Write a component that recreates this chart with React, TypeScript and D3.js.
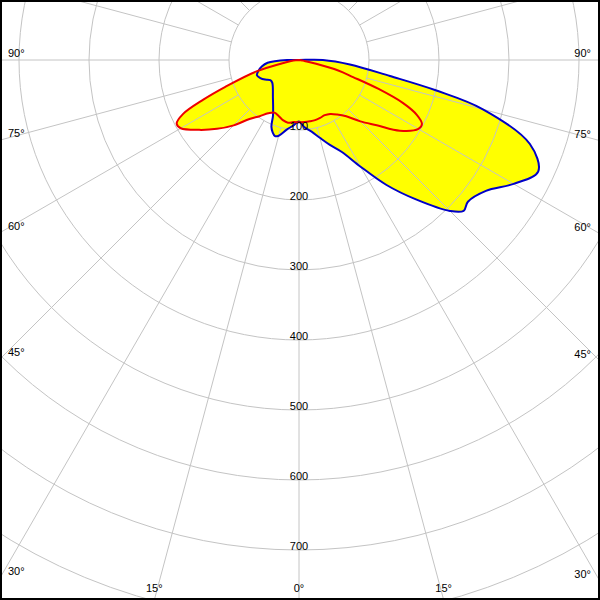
import * as d3 from "d3";

// polar angles (deg from nadir, + to the right) and intensities
const blueGamma = [
  -90, -85, -80, -75, -70, -65, -60, -55, -50, -45, -40, -35, -30, -25, -22.5, -20, -17.5,
  -15, -10, -5, 0, 5, 10, 15, 20, 25, 30, 35, 40, 45, 47.5, 50, 55, 60, 65, 70, 75, 77.5,
  80, 85, 90,
];
const blueValues = [
  17, 45, 54, 60, 64, 61, 56, 50, 50, 53, 58, 65, 74, 88, 103, 110, 114,
  112, 101, 94, 88, 97, 104, 115, 129, 145, 176, 218, 260, 305, 319, 315, 326, 354, 377, 351, 272, 200,
  132, 73, 34,
];

const redGamma = [
  -90, -85, -80, -75, -70, -67.5, -65, -62.5, -60, -55, -50, -45, -40, -35, -30, -25, -20,
  -15, -10, -5, 0, 5, 10, 15, 20, 25, 30, 35, 40, 45, 50, 55, 60, 62.5, 65, 67.5, 70, 72.5,
  75, 77.5, 80, 85, 90,
];
const redValues = [
  0, 8, 20, 63, 112, 148, 183, 197, 195, 174, 153, 132, 110, 98, 88, 83, 85,
  89, 91, 89, 89, 89, 89, 89, 88, 87, 89, 95, 105, 124, 145, 176, 197, 198, 186, 161, 121, 81,
  58, 25, 8, 3, 0,
];

const ringValues = [100, 200, 300, 400, 500, 600, 700, 800, 900];
const ringLabels = [100, 200, 300, 400, 500, 600, 700];
const spokeAngles = d3.range(0, 360, 15);
const angleLabels = [-90, -75, -60, -45, -30, -15, 0, 15, 30, 45, 60, 75, 90];

const W = 600;
const H = 600;
const cx = 299;
const cy = 60;

const r = d3.scaleLinear().domain([0, 100]).range([0, 70]);

type Pt = [number, number];

const toRad = (g: number) => ((180 - g) * Math.PI) / 180;

const radial = d3
  .lineRadial<Pt>()
  .angle((d) => toRad(d[0]))
  .radius((d) => r(d[1]))
  .curve(d3.curveCatmullRomClosed.alpha(0.5));

function curvePath(gamma: number[], values: number[]) {
  const pts: Pt[] = gamma.map((g, i) => [g, values[i]]);
  pts.push([180, 0]);
  return radial(pts) || "";
}

// where a ray from the centre leaves the frame
function exitPoint(g: number) {
  const s = Math.sin((g * Math.PI) / 180);
  const c = Math.cos((g * Math.PI) / 180);
  const tSide = Math.abs(s) > 1e-6 ? (s < 0 ? cx / -s : (W - cx) / s) : Infinity;
  const tBottom = c > 1e-6 ? (H - cy) / c : Infinity;
  if (tSide <= tBottom) {
    return { side: s < 0 ? "left" : "right", x: cx + s * tSide, y: cy + c * tSide };
  }
  return { side: "bottom", x: cx + s * tBottom, y: cy + c * tBottom };
}

export default function App() {
  const bluePath = curvePath(blueGamma, blueValues);
  const redPath = curvePath(redGamma, redValues);
  const font = "'Liberation Sans', Arial, sans-serif";

  return (
    <svg
      width={W}
      height={H}
      style={{ position: "absolute", left: 0, top: 0, background: "#fff" }}
    >
      <g transform={`translate(${cx},${cy})`}>
        <path d={bluePath} fill="#ffff00" />
        <path d={redPath} fill="#ffff00" />
        {ringValues.map((v) => (
          <circle key={v} r={r(v)} fill="none" stroke="#c4c4c4" strokeWidth={1} />
        ))}
        {spokeAngles.map((a) => {
          const s = Math.sin((a * Math.PI) / 180);
          const c = Math.cos((a * Math.PI) / 180);
          return (
            <line
              key={a}
              x1={s * r(100)}
              y1={c * r(100)}
              x2={s * r(1000)}
              y2={c * r(1000)}
              stroke="#c4c4c4"
              strokeWidth={1}
            />
          );
        })}
        <path d={bluePath} fill="none" stroke="#0000c8" strokeWidth={2} strokeLinejoin="round" />
        <path d={redPath} fill="none" stroke="#ee0000" strokeWidth={2} strokeLinejoin="round" />
        {ringLabels.map((v) => (
          <text
            key={v}
            x={0}
            y={r(v)}
            textAnchor="middle"
            fontFamily={font}
            fontSize={11}
            fill="#000"
          >
            {v}
          </text>
        ))}
      </g>
      {angleLabels.map((g) => {
        const p = exitPoint(g);
        const label = `${Math.abs(g)}°`;
        if (p.side === "bottom") {
          return (
            <text key={g} x={p.x} y={H - 8} textAnchor="middle" fontFamily={font} fontSize={11}>
              {label}
            </text>
          );
        }
        return (
          <text
            key={g}
            x={p.side === "left" ? 8 : W - 9}
            y={p.y - 3}
            textAnchor={p.side === "left" ? "start" : "end"}
            fontFamily={font}
            fontSize={11}
          >
            {label}
          </text>
        );
      })}
      <rect x={0} y={0} width={W} height={H} fill="none" stroke="#000" strokeWidth={4} />
    </svg>
  );
}
